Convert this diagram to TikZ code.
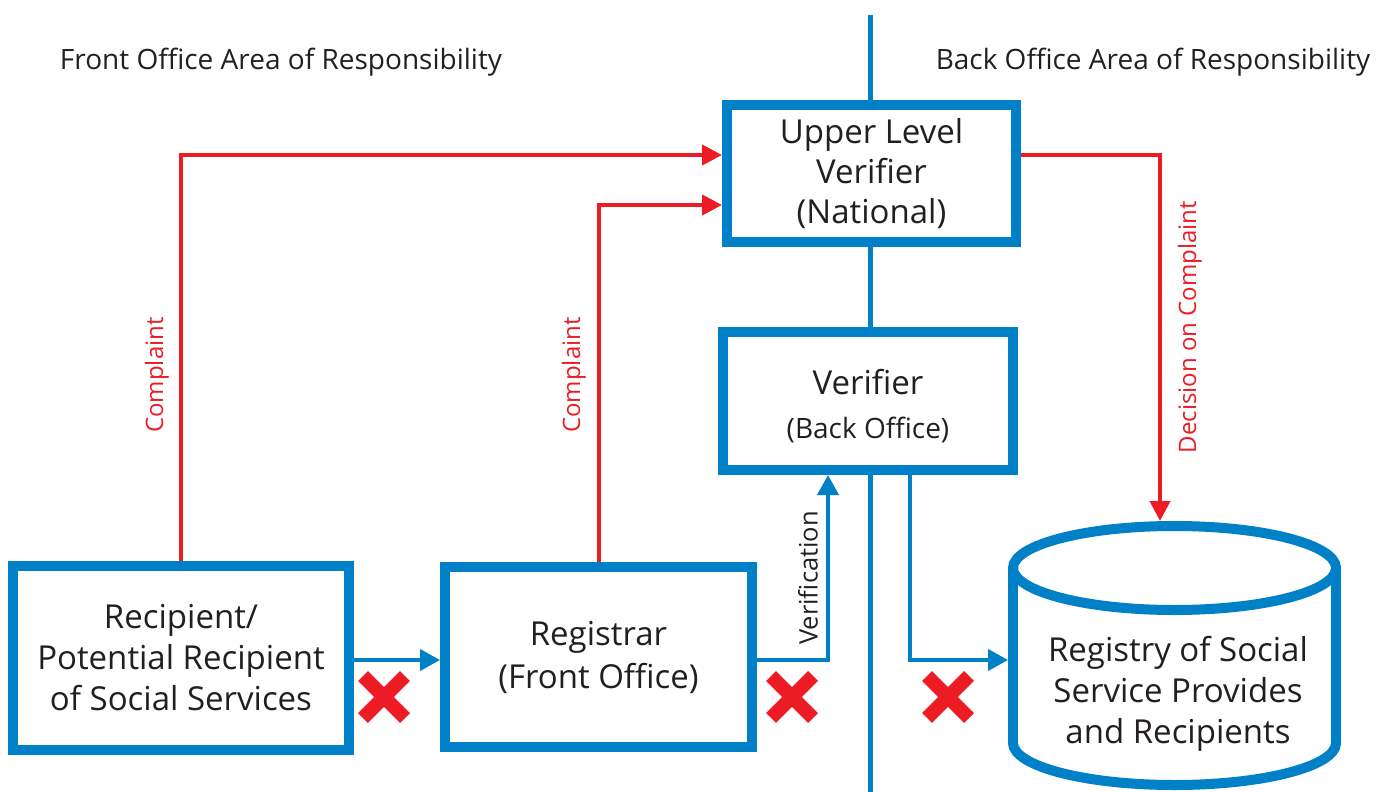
\documentclass[tikz,border=0pt]{standalone}
\usepackage{fontspec}
\setmainfont{Open Sans}
\usetikzlibrary{arrows.meta,calc}
\definecolor{bblue}{RGB}{0,128,198}
\definecolor{rred}{RGB}{237,28,36}
\definecolor{txt}{RGB}{35,31,32}

\begin{document}
\begin{tikzpicture}[x=1pt,y=-1pt,
  box/.style={draw=bblue,line width=10pt,fill=white,align=center,inner sep=0pt,
    text=txt,font=\fontsize{33}{41}\selectfont},
  blueline/.style={draw=bblue,line width=4pt},
  bluearrow/.style={blueline,-{Triangle[length=20pt,width=21pt]}},
  redarrow/.style={draw=rred,line width=4pt,-{Triangle[length=20pt,width=20pt]}},
  lbl/.style={font=\fontsize{24}{28}\selectfont,rotate=90,inner sep=0pt},
  cross/.style={draw=rred,line width=14pt},
  region/.style={font=\fontsize{28}{32}\selectfont,text=txt,inner sep=0pt},
  cyl/.style={draw=bblue,line width=10pt,fill=white}]

\useasboundingbox (0,0) rectangle (1376,792);

% divider between front office and back office
\draw[bblue,line width=5pt] (870,15) -- (870,792);

% area captions
\node[region] (front) at (281,62) {Front Office Area of Responsibility};
\node[region] (back) at (1153,62) {Back Office Area of Responsibility};

% boxes
\node[box,minimum width=336pt,minimum height=184pt] (rec) at (181,658)
  {Recipient/\\Potential Recipient\\of Social Services};
\node[box,minimum width=307pt,minimum height=180pt] (regi) at (598.5,657)
  {Registrar\\[2pt](Front Office)};
\node[box,minimum width=289pt,minimum height=137pt] (upper) at (871.5,173.5)
  {Upper Level\\[-1pt]Verifier\\[-1pt](National)};
\node[box,minimum width=290pt,minimum height=138pt] (ver) at (868,401)
  {\rule{0pt}{36pt}Verifier\\[3pt]{\fontsize{28}{34}\selectfont(Back Office)}};

% registry cylinder
\draw[cyl] (1174.5,743) ellipse [x radius=161.5pt, y radius=42pt];
\fill[white] (1013,568) rectangle (1336,743);
\draw[bblue,line width=10pt] (1013,568) -- (1013,743) (1336,568) -- (1336,743);
\draw[cyl] (1174.5,568) ellipse [x radius=161.5pt, y radius=42pt];
\node[align=center,text=txt,font=\fontsize{33}{41}\selectfont,inner sep=0pt] (regy) at (1178,694)
  {Registry of Social\\Service Provides\\and Recipients};
\coordinate (regW) at (1008,660);
\coordinate (regN) at (1160,521);

% blue flows
\draw[bluearrow] ($(rec.east)+(0,2)$) -- ($(regi.west)+(0,3)$);
\draw[bluearrow] ($(regi.east)+(0,3)$) -| ($(ver.south)+(-40,0)$);
\draw[bluearrow] ($(ver.south)+(42,0)$) |- (regW);

% complaint flows
\draw[redarrow] (rec.north) |- ($(upper.west)+(0,-18.5)$);
\draw[redarrow] (regi.north) |- ($(upper.west)+(0,31.5)$);
\draw[redarrow] ($(upper.east)+(0,-18.5)$) -| (regN);

% connector labels
\node[lbl,text=rred] (c1) at (157,375) {Complaint};
\node[lbl,text=rred] (c2) at (574,375) {Complaint};
\node[lbl,text=rred] (dec) at (1190,327) {Decision on Complaint};
\node[lbl,text=txt,font=\fontsize{25.5}{30}\selectfont] (verif) at (808,578) {Verification};

% blocked paths
\foreach \cx in {384,792,948}{
  \draw[cross] (\cx-21,697-21) -- (\cx+21,697+21);
  \draw[cross] (\cx-21,697+21) -- (\cx+21,697-21);
}
\end{tikzpicture}
\end{document}
